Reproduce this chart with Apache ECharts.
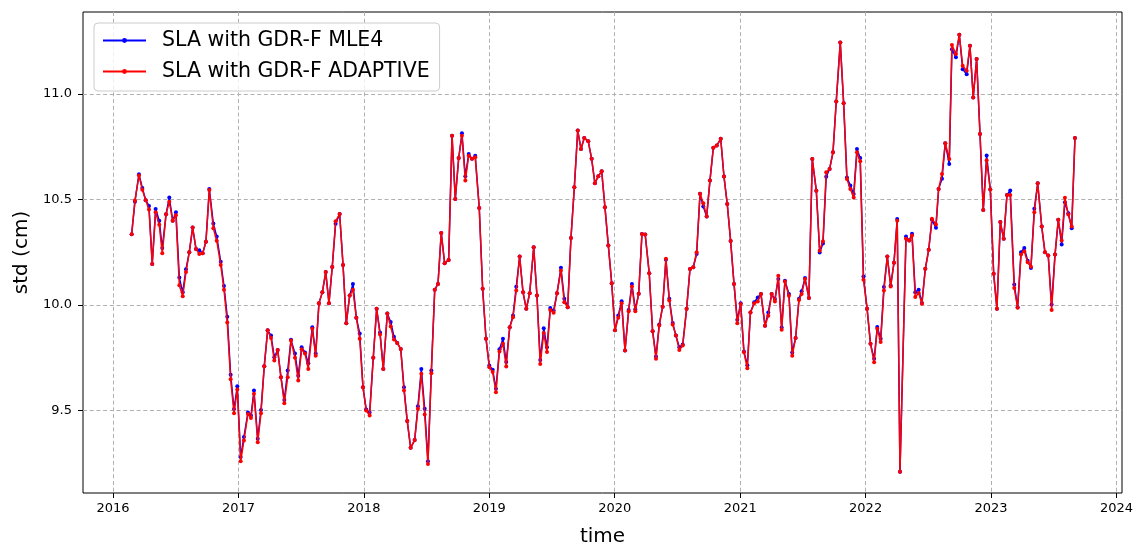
<!DOCTYPE html>
<html>
<head>
<meta charset="utf-8">
<script src="https://cdn.jsdelivr.net/npm/echarts@6/dist/echarts.min.js"></script>
<style>html,body{margin:0;padding:0;background:#fff;}#c{width:1135px;height:544px;}</style>
</head>
<body>
<div id="c"></div>
<script>
const years = [
2016.149,2016.175,2016.207,2016.234,2016.261,2016.287,2016.313,2016.340,2016.369,2016.393,
2016.423,2016.449,2016.476,2016.502,2016.529,2016.556,2016.582,2016.608,2016.635,2016.662,
2016.688,2016.715,2016.741,2016.768,2016.800,2016.827,2016.859,2016.885,2016.911,2016.938,
2016.965,2016.991,2017.018,2017.044,2017.076,2017.100,2017.124,2017.154,2017.180,2017.206,
2017.233,2017.260,2017.286,2017.313,2017.339,2017.366,2017.393,2017.419,2017.451,2017.477,
2017.504,2017.531,2017.557,2017.589,2017.616,2017.642,2017.669,2017.696,2017.722,2017.748,
2017.775,2017.807,2017.834,2017.860,2017.887,2017.913,2017.940,2017.967,2017.993,2018.019,
2018.046,2018.075,2018.102,2018.129,2018.155,2018.187,2018.214,2018.240,2018.266,2018.294,
2018.320,2018.346,2018.373,2018.405,2018.431,2018.458,2018.485,2018.511,2018.538,2018.565,
2018.591,2018.617,2018.644,2018.676,2018.703,2018.729,2018.756,2018.782,2018.809,2018.836,
2018.862,2018.888,2018.920,2018.947,2018.974,2019.000,2019.027,2019.053,2019.081,2019.109,
2019.135,2019.163,2019.189,2019.215,2019.242,2019.269,2019.295,2019.322,2019.354,2019.380,
2019.406,2019.434,2019.460,2019.486,2019.513,2019.540,2019.571,2019.598,2019.625,2019.651,
2019.678,2019.705,2019.731,2019.757,2019.789,2019.816,2019.842,2019.869,2019.896,2019.922,
2019.949,2019.976,2020.002,2020.028,2020.055,2020.082,2020.111,2020.137,2020.164,2020.191,
2020.217,2020.243,2020.275,2020.302,2020.329,2020.355,2020.382,2020.408,2020.435,2020.462,
2020.488,2020.515,2020.542,2020.573,2020.600,2020.626,2020.653,2020.680,2020.706,2020.733,
2020.759,2020.786,2020.813,2020.845,2020.871,2020.897,2020.924,2020.951,2020.977,2021.004,
2021.030,2021.057,2021.082,2021.112,2021.140,2021.166,2021.198,2021.224,2021.251,2021.277,
2021.304,2021.331,2021.357,2021.389,2021.415,2021.442,2021.469,2021.490,2021.517,2021.548,
2021.575,2021.607,2021.634,2021.660,2021.686,2021.713,2021.740,2021.766,2021.798,2021.825,
2021.851,2021.878,2021.905,2021.931,2021.957,2021.983,2022.012,2022.039,2022.068,2022.093,
2022.120,2022.146,2022.173,2022.200,2022.226,2022.252,2022.274,2022.322,2022.348,2022.370,
2022.396,2022.423,2022.449,2022.476,2022.503,2022.529,2022.561,2022.582,2022.609,2022.635,
2022.667,2022.688,2022.720,2022.747,2022.774,2022.806,2022.832,2022.858,2022.885,2022.912,
2022.938,2022.965,2022.994,2023.021,2023.047,2023.074,2023.101,2023.127,2023.153,2023.185,
2023.212,2023.239,2023.265,2023.292,2023.318,2023.345,2023.372,2023.404,2023.430,2023.456,
2023.483,2023.510,2023.536,2023.563,2023.589,2023.616,2023.643,2023.669
];
const adaptive = [
10.336,10.495,10.614,10.547,10.497,10.453,10.195,10.440,10.380,10.245,
10.430,10.490,10.400,10.425,10.094,10.042,10.156,10.250,10.367,10.266,
10.242,10.245,10.300,10.545,10.364,10.305,10.190,10.073,9.917,9.648,
9.487,9.600,9.260,9.358,9.484,9.465,9.580,9.350,9.487,9.710,
9.880,9.844,9.737,9.787,9.658,9.535,9.658,9.832,9.750,9.642,
9.790,9.770,9.697,9.887,9.760,10.009,10.060,10.156,10.009,10.180,
10.397,10.432,10.190,9.914,10.045,10.072,9.940,9.840,9.610,9.500,
9.476,9.750,9.982,9.860,9.697,9.960,9.898,9.837,9.820,9.792,
9.595,9.450,9.323,9.360,9.508,9.674,9.481,9.247,9.677,10.072,
10.100,10.342,10.198,10.214,10.803,10.503,10.697,10.803,10.590,10.708,
10.693,10.700,10.460,10.077,9.840,9.705,9.682,9.587,9.780,9.816,
9.709,9.895,9.942,10.069,10.230,10.060,9.982,10.056,10.274,10.045,
9.720,9.867,9.777,9.977,9.963,10.056,10.164,10.013,9.990,10.318,
10.558,10.827,10.740,10.792,10.776,10.693,10.577,10.611,10.634,10.464,
10.282,10.103,9.880,9.940,10.009,9.784,9.971,10.088,9.970,10.053,
10.337,10.334,10.151,9.876,9.745,9.903,9.992,10.219,10.021,9.908,
9.855,9.787,9.808,9.982,10.171,10.179,10.250,10.527,10.483,10.420,
10.590,10.745,10.756,10.788,10.609,10.479,10.303,10.100,9.914,10.005,
9.776,9.700,9.965,10.008,10.017,10.052,9.902,9.949,10.052,10.017,
10.139,9.883,10.112,10.044,9.760,9.844,10.024,10.052,10.123,10.033,
10.692,10.542,10.257,10.302,10.629,10.645,10.724,10.965,11.245,10.956,
10.597,10.550,10.510,10.724,10.681,10.120,9.982,9.816,9.729,9.888,
9.825,10.069,10.230,10.088,10.200,10.400,9.210,10.314,10.306,10.330,
10.038,10.057,10.006,10.172,10.262,10.409,10.382,10.550,10.621,10.767,
10.692,11.233,11.190,11.281,11.134,11.110,11.229,10.984,11.166,10.811,
10.451,10.686,10.548,10.148,9.982,10.393,10.314,10.522,10.522,10.081,
9.987,10.239,10.255,10.203,10.182,10.440,10.577,10.372,10.250,10.235,
9.977,10.239,10.404,10.306,10.508,10.429,10.372,10.792
];
const mle4 = [
10.336,10.490,10.620,10.555,10.497,10.470,10.195,10.455,10.400,10.270,
10.430,10.510,10.400,10.440,10.130,10.060,10.170,10.250,10.367,10.266,
10.260,10.245,10.300,10.550,10.386,10.325,10.205,10.090,9.945,9.670,
9.507,9.615,9.280,9.375,9.490,9.476,9.595,9.366,9.503,9.710,
9.880,9.855,9.753,9.787,9.658,9.550,9.690,9.835,9.770,9.665,
9.800,9.775,9.724,9.895,9.770,10.009,10.060,10.156,10.009,10.180,
10.385,10.432,10.190,9.914,10.045,10.100,9.940,9.865,9.610,9.505,
9.490,9.750,9.982,9.870,9.697,9.960,9.920,9.850,9.820,9.792,
9.610,9.450,9.323,9.360,9.520,9.697,9.508,9.260,9.690,10.072,
10.100,10.342,10.198,10.214,10.803,10.503,10.697,10.814,10.610,10.716,
10.693,10.708,10.460,10.077,9.840,9.713,9.693,9.603,9.790,9.840,
9.730,9.895,9.950,10.087,10.230,10.060,9.982,10.056,10.274,10.045,
9.740,9.890,9.800,9.986,9.974,10.056,10.177,10.030,9.990,10.318,
10.558,10.827,10.740,10.792,10.776,10.693,10.577,10.611,10.634,10.464,
10.282,10.103,9.880,9.950,10.018,9.784,9.977,10.100,9.980,10.053,
10.337,10.334,10.151,9.876,9.756,9.908,9.992,10.215,10.030,9.915,
9.855,9.800,9.813,9.982,10.171,10.179,10.242,10.527,10.467,10.420,
10.590,10.745,10.756,10.788,10.609,10.479,10.303,10.100,9.930,10.008,
9.780,9.715,9.965,10.013,10.036,10.052,9.902,9.965,10.052,10.028,
10.123,9.894,10.115,10.052,9.775,9.844,10.030,10.065,10.128,10.033,
10.692,10.542,10.249,10.292,10.608,10.645,10.724,10.965,11.245,10.956,
10.605,10.566,10.526,10.740,10.697,10.135,9.982,9.816,9.745,9.896,
9.840,10.085,10.230,10.093,10.200,10.408,9.210,10.325,10.306,10.338,
10.060,10.073,10.010,10.172,10.262,10.404,10.366,10.550,10.598,10.767,
10.668,11.213,11.174,11.281,11.118,11.094,11.229,10.984,11.166,10.811,
10.451,10.709,10.548,10.148,9.982,10.393,10.314,10.522,10.543,10.097,
9.990,10.250,10.270,10.210,10.176,10.456,10.577,10.372,10.250,10.235,
10.002,10.239,10.404,10.287,10.487,10.435,10.364,10.792
];
const xTicks = [2016, 2017, 2018, 2019, 2020, 2021, 2022, 2023, 2024];
const yTicks = [9.5, 10.0, 10.5, 11.0];
const seriesNames = ['SLA with GDR-F MLE4', 'SLA with GDR-F ADAPTIVE'];

const chart = echarts.init(document.getElementById('c'), null, {renderer: 'canvas'});
const font = 'DejaVu Sans';
const gridLine = {show: true, lineStyle: {color: '#b0b0b0', width: 1, type: [4, 2.7]}};
chart.setOption({
  animation: false,
  backgroundColor: '#fff',
  textStyle: {fontFamily: font},
  grid: {left: 83, top: 12, width: 1039, height: 481, show: true, borderColor: '#000', borderWidth: 1,
         backgroundColor: 'transparent', containLabel: false, outerBoundsMode: 'none'},
  legend: {
    orient: 'vertical', left: 94, top: 23,
    padding: [7, 10, 9, 8],
    itemWidth: 43, itemHeight: 6, itemGap: 10,
    backgroundColor: 'rgba(255,255,255,0.8)',
    borderColor: '#cccccc', borderWidth: 1, borderRadius: 4,
    textStyle: {fontFamily: font, fontSize: 20.5, color: '#000', padding: [0, 0, 0, 11]},
    data: seriesNames
  },
  xAxis: {
    type: 'value', min: 2015.761, max: 2024.044,
    name: 'time', nameLocation: 'middle', nameGap: 34,
    nameTextStyle: {fontFamily: font, fontSize: 20, color: '#000'},
    axisLine: {show: false},
    axisTick: {show: true, inside: false, length: 5, lineStyle: {color: '#000'}, customValues: xTicks},
    axisLabel: {fontFamily: font, fontSize: 13, color: '#000', margin: 9, customValues: xTicks, formatter: v => String(v)},
    splitLine: gridLine
  },
  yAxis: {
    type: 'value', min: 9.109, max: 11.389,
    name: 'std (cm)', nameLocation: 'middle', nameGap: 51, nameRotate: 90,
    nameTextStyle: {fontFamily: font, fontSize: 20, color: '#000'},
    axisLine: {show: false},
    axisTick: {show: true, inside: false, length: 5, lineStyle: {color: '#000'}, customValues: yTicks},
    axisLabel: {fontFamily: font, fontSize: 13, color: '#000', margin: 11, customValues: yTicks, formatter: v => v.toFixed(1)},
    splitLine: gridLine
  },
  series: [
    {
      name: seriesNames[0], type: 'line',
      data: years.map((t, i) => [t, mle4[i]]),
      symbol: 'circle', symbolSize: 4, showAllSymbol: true,
      lineStyle: {color: '#0000ff', width: 1.5},
      itemStyle: {color: '#0000ff'},
      z: 2
    },
    {
      name: seriesNames[1], type: 'line',
      data: years.map((t, i) => [t, adaptive[i]]),
      symbol: 'circle', symbolSize: 4, showAllSymbol: true,
      lineStyle: {color: '#ff0000', width: 1.5},
      itemStyle: {color: '#ff0000'},
      z: 3
    }
  ]
});
</script>
</body>
</html>
